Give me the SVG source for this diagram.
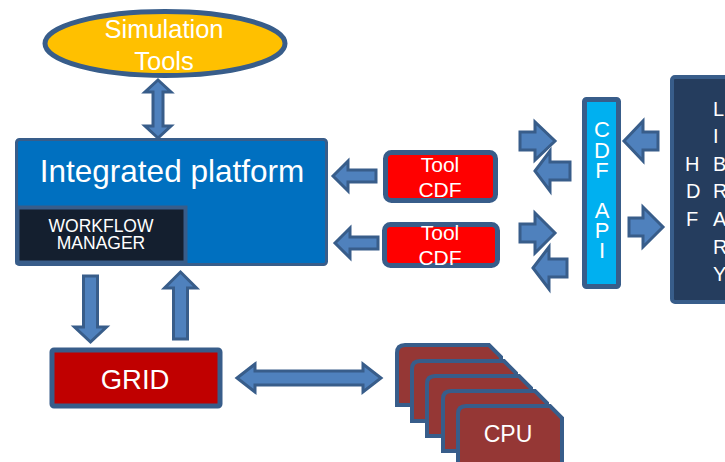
<svg xmlns="http://www.w3.org/2000/svg" width="725" height="462" viewBox="0 0 725 462">
<style>
  .arr { fill: #4F81BD; stroke: #385D8A; stroke-width: 3; stroke-linejoin: miter; }
  .wt { fill: #FFFFFF; font-family: "Liberation Sans", Arial, sans-serif; text-anchor: middle; }
  .card { fill: #953735; stroke: #385D8A; stroke-width: 4; }
</style>
<defs>
  <clipPath id="clip1"><rect x="380" y="140" width="125" height="58"/></clipPath>
  <clipPath id="clip2"><rect x="380" y="215" width="125" height="50"/></clipPath>
</defs>
<rect width="725" height="462" fill="#FFFFFF"/>

<g id="connectors">
  <polygon class="arr" points="158,80 171,92 163,92 163,126 171,126 158,138 145,126 153,126 153,92 145,92"/>
  <polygon class="arr" points="83.5,276 97.5,276 97.5,327 106.5,327 90.5,342 74.5,327 83.5,327"/>
  <polygon class="arr" points="180.5,272 196.5,288 187.5,288 187.5,339 173.5,339 173.5,288 164.5,288"/>
  <polygon class="arr" points="237,378 255,364 255,371 363,371 363,364 381,378 363,392 363,385 255,385 255,392"/>
  <polygon class="arr" points="333,176 348,161 348,170 376,170 376,182 348,182 348,191"/>
  <polygon class="arr" points="335,243 350,228 350,237 378,237 378,249 350,249 350,258"/>
  <polygon class="arr" points="520,132 535,132 535,122 555,141 535,160 535,150 520,150"/>
  <polygon class="arr" points="535,171 550,151 550,162 570,162 570,180 550,180 550,191"/>
  <polygon class="arr" points="520,224 535,224 535,213 555,233 535,253 535,242 520,242"/>
  <polygon class="arr" points="533,268 549,247 549,259 567,259 567,277 549,277 549,289"/>
  <polygon class="arr" points="624,141 643,121 643,132 658,132 658,150 643,150 643,161"/>
  <polygon class="arr" points="629,218 643,218 643,207 663,227 643,247 643,236 629,236"/>
</g>

<g id="simulation-tools">
  <ellipse cx="165" cy="43.5" rx="120" ry="32" fill="#FFC000" stroke="#385D8A" stroke-width="5"/>
  <text class="wt" x="164" y="38" font-size="25.5">Simulation</text>
  <text class="wt" x="164" y="70" font-size="25.5">Tools</text>
</g>

<g id="integrated-platform">
  <rect x="16.5" y="139.5" width="310" height="125" rx="3" fill="#0070C0" stroke="#385D8A" stroke-width="3"/>
  <text class="wt" x="172" y="182" font-size="31.5">Integrated platform</text>
</g>

<g id="workflow-manager">
  <rect x="17.5" y="207.5" width="168" height="55" fill="#141F2F" stroke="#385D8A" stroke-width="4"/>
  <text class="wt" x="101" y="232" font-size="17.5">WORKFLOW</text>
  <text class="wt" x="101" y="249" font-size="17.5">MANAGER</text>
</g>

<g id="grid">
  <rect x="52" y="350" width="168" height="56" rx="2" fill="#C00000" stroke="#385D8A" stroke-width="5"/>
  <text class="wt" x="135" y="389" font-size="27.5">GRID</text>
</g>

<g id="cpu">
  <path class="card" d="M397,353 Q397,345 405,345 H489 L501,357 V405 H397 Z"/>
  <path class="card" d="M412,369 Q412,361 420,361 H504 L516,373 V421 H412 Z"/>
  <path class="card" d="M427,384 Q427,376 435,376 H519 L531,388 V436 H427 Z"/>
  <path class="card" d="M443,399 Q443,391 451,391 H535 L547,403 V451 H443 Z"/>
  <path class="card" d="M458,414 Q458,406 466,406 H550 L562,418 V470 H458 Z"/>
  <text class="wt" x="508" y="442" font-size="23">CPU</text>
</g>

<g id="tool-cdf-1">
  <rect x="385.5" y="152.5" width="110" height="48" rx="6" fill="#FF0000" stroke="#385D8A" stroke-width="5"/>
  <g clip-path="url(#clip1)">
    <text class="wt" x="440" y="172" font-size="21">Tool</text>
    <text class="wt" x="440" y="197" font-size="21">CDF</text>
  </g>
</g>

<g id="tool-cdf-2">
  <rect x="384.5" y="224.5" width="113" height="41" rx="6" fill="#FF0000" stroke="#385D8A" stroke-width="5"/>
  <g clip-path="url(#clip2)">
    <text class="wt" x="440" y="240" font-size="21">Tool</text>
    <text class="wt" x="440" y="265" font-size="21">CDF</text>
  </g>
</g>

<g id="cdf-api">
  <rect x="584.5" y="99.5" width="34" height="187" rx="2" fill="#00B0F0" stroke="#385D8A" stroke-width="5"/>
  <text class="wt" x="602" y="137" font-size="22">C</text>
  <text class="wt" x="602" y="158" font-size="22">D</text>
  <text class="wt" x="602" y="178" font-size="22">F</text>
  <text class="wt" x="602" y="218" font-size="22">A</text>
  <text class="wt" x="602" y="238" font-size="22">P</text>
  <text class="wt" x="602" y="258" font-size="22">I</text>
</g>

<g id="hdf-library">
  <rect x="672" y="77" width="70" height="225" rx="3" fill="#253D5E" stroke="#385D8A" stroke-width="4"/>
  <g font-family="Liberation Sans, Arial, sans-serif" font-size="20" fill="#FFFFFF">
    <text x="685" y="171">H</text>
    <text x="686" y="198">D</text>
    <text x="686" y="226">F</text>
    <text x="713" y="116">L</text>
    <text x="713" y="143">I</text>
    <text x="713" y="171">B</text>
    <text x="713" y="198">R</text>
    <text x="713" y="226">A</text>
    <text x="713" y="254">R</text>
    <text x="713" y="281">Y</text>
  </g>
</g>
</svg>
